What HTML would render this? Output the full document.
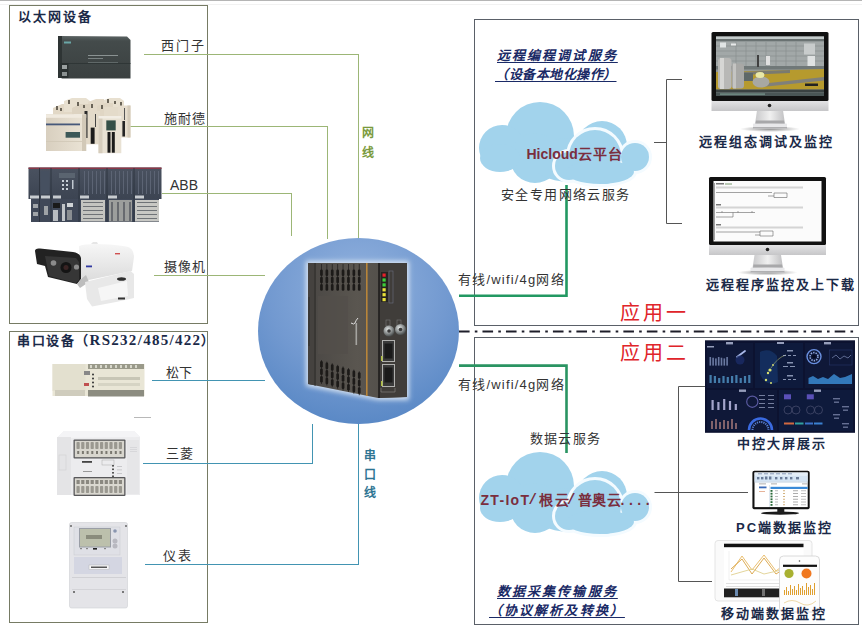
<!DOCTYPE html>
<html lang="zh-CN"><head><meta charset="utf-8">
<style>
*{margin:0;padding:0;box-sizing:border-box}
html,body{width:862px;height:629px;overflow:hidden;background:#fff}
body{position:relative;font-family:"Liberation Sans",sans-serif;color:#333}
.a{position:absolute}
.box{position:absolute;border:1px solid #767b64}
.rbox{position:absolute;border:1px solid #5a6068}
.t{position:absolute;z-index:5;white-space:nowrap;font-size:13px;line-height:13px;color:#333}
.h{position:absolute;z-index:5;white-space:nowrap;font-size:13px;line-height:13px;font-weight:bold;color:#1b2a48}
.lg{position:absolute;background:#9cb676}
.lb{position:absolute;background:#4294b2}
.ld{position:absolute;background:#555}
.it{position:absolute;z-index:5;white-space:nowrap;font-size:13px;line-height:13px;font-weight:bold;font-style:italic;color:#1a2a66;text-decoration:underline;text-decoration-thickness:1px;text-underline-offset:2px}
</style></head><body>
<!-- top gray line -->
<div class="a" style="left:0;top:0;width:862px;height:1px;background:#b5b5b5"></div>
<div class="a" style="left:0;top:4px;width:862px;height:1px;background:#f2f2f2"></div>

<!-- left boxes -->
<div class="box" style="left:9px;top:5px;width:199px;height:319px"></div>
<div class="box" style="left:9px;top:331px;width:199px;height:292px"></div>

<!-- right boxes -->
<div class="rbox" style="left:474px;top:19px;width:385px;height:307px"></div>
<div class="rbox" style="left:474px;top:337px;width:385px;height:288px"></div>

<!-- dash-dot separator -->
<svg class="a" style="left:458.5px;top:330px" width="397" height="3"><line x1="0" y1="1.5" x2="397" y2="1.5" stroke="#1e1e2a" stroke-width="2" stroke-dasharray="10.6 5.2 2.6 5.08"/></svg>

<div class="h" style="left:18px;top:10px;letter-spacing:1.9px">以太网设备</div>
<div class="h" style="left:17px;top:334px;letter-spacing:1.5px">串口设备（<span style="font-family:'Liberation Serif',serif;font-size:15px;letter-spacing:1.3px">RS232/485/422</span>）</div>


<!-- ethernet lines (green) -->
<div class="lg" style="left:144px;top:54px;width:215px;height:1px"></div>
<div class="lg" style="left:358px;top:54px;width:1px;height:186px"></div>
<div class="lg" style="left:130px;top:126px;width:198px;height:1px"></div>
<div class="lg" style="left:327px;top:126px;width:1px;height:113px"></div>
<div class="lg" style="left:162px;top:193px;width:130px;height:1px"></div>
<div class="lg" style="left:291px;top:193px;width:1px;height:43px"></div>
<div class="lg" style="left:154px;top:275px;width:111px;height:1px"></div>
<div class="t" style="left:161px;top:39px;letter-spacing:1.8px">西门子</div>
<div class="t" style="left:164px;top:112px;letter-spacing:1px">施耐德</div>
<div class="t" style="left:170px;top:179px;font-size:14px;letter-spacing:0px">ABB</div>
<div class="t" style="left:164px;top:260px;letter-spacing:1px">摄像机</div>
<div class="a" style="left:362px;top:123px;font-size:12px;line-height:20px;font-weight:bold;color:#7a9a3c;width:14px">网<br>线</div>

<!-- serial lines (teal) -->
<div class="lb" style="left:152px;top:380px;width:113px;height:1px"></div>
<div class="lb" style="left:143px;top:463px;width:170px;height:1px"></div>
<div class="lb" style="left:312px;top:424px;width:1px;height:40px"></div>
<div class="lb" style="left:145px;top:564px;width:214px;height:1px"></div>
<div class="lb" style="left:358px;top:424px;width:1px;height:141px"></div>
<div class="t" style="left:166px;top:366px">松下</div>
<div class="t" style="left:166px;top:447px;letter-spacing:1px">三菱</div>
<div class="t" style="left:163px;top:549px;letter-spacing:2px">仪表</div>
<div class="a" style="left:364px;top:447px;font-size:12px;line-height:18.5px;font-weight:bold;color:#2e7492;width:14px">串<br>口<br>线</div>

<!-- circle + device -->
<svg class="a" style="left:0;top:0" width="862" height="629">
<defs>
<radialGradient id="cg" cx="0.5" cy="0.3" r="0.75" fx="0.5" fy="0.25">
<stop offset="0" stop-color="#92b2de"/><stop offset="0.6" stop-color="#7299d0"/><stop offset="1" stop-color="#5686c4"/>
</radialGradient>
<radialGradient id="bnc" cx="0.4" cy="0.35" r="0.65"><stop offset="0" stop-color="#e4e8e8"/><stop offset="0.5" stop-color="#989c9c"/><stop offset="1" stop-color="#4a4e4e"/></radialGradient>
<linearGradient id="bg1" x1="0" y1="0" x2="1" y2="0">
<stop offset="0" stop-color="#4a4744"/><stop offset="0.5" stop-color="#5a5650"/><stop offset="1" stop-color="#4c4945"/>
</linearGradient>
<filter id="glow" x="-20%" y="-20%" width="140%" height="140%"><feGaussianBlur stdDeviation="2.5"/></filter>
</defs>
<ellipse cx="358.5" cy="331" rx="100.5" ry="93" fill="url(#cg)"/>
<path d="M306 261 L409 261 L409 400 L378 400 L306 386 Z" fill="#e8f0f8" opacity="0.85" filter="url(#glow)"/>
<path d="M308 263 L407 263 L407 397 L378 398 L308 384 Z" fill="url(#bg1)"/>
<path d="M308 263 L316 263 L316 385.5 L308 384 Z" fill="#45423f"/>
<rect x="308" y="297" width="2" height="49" fill="#3a3835"/>
<line x1="315" y1="263" x2="315" y2="385.5" stroke="#2e2c2a" stroke-width="1"/>
<rect x="318" y="296" width="30" height="58" fill="#524f4a" opacity="0.7"/>
<rect x="321.0" y="360.0" width="0.9" height="24.0" fill="#2a2826"/><rect x="320.1" y="361.0" width="2.7" height="6.6" rx="1.3" fill="#1c1a18"/><rect x="320.1" y="368.5" width="2.7" height="6.6" rx="1.3" fill="#1c1a18"/><rect x="320.1" y="376.0" width="2.7" height="6.6" rx="1.3" fill="#1c1a18"/><rect x="326.4" y="361.6" width="0.9" height="24.0" fill="#2a2826"/><rect x="325.5" y="362.6" width="2.7" height="6.6" rx="1.3" fill="#1c1a18"/><rect x="325.5" y="370.1" width="2.7" height="6.6" rx="1.3" fill="#1c1a18"/><rect x="325.5" y="377.6" width="2.7" height="6.6" rx="1.3" fill="#1c1a18"/><rect x="331.8" y="363.2" width="0.9" height="24.0" fill="#2a2826"/><rect x="330.9" y="364.2" width="2.7" height="6.6" rx="1.3" fill="#1c1a18"/><rect x="330.9" y="371.7" width="2.7" height="6.6" rx="1.3" fill="#1c1a18"/><rect x="330.9" y="379.2" width="2.7" height="6.6" rx="1.3" fill="#1c1a18"/><rect x="337.2" y="364.8" width="0.9" height="24.0" fill="#2a2826"/><rect x="336.3" y="365.8" width="2.7" height="6.6" rx="1.3" fill="#1c1a18"/><rect x="336.3" y="373.3" width="2.7" height="6.6" rx="1.3" fill="#1c1a18"/><rect x="336.3" y="380.8" width="2.7" height="6.6" rx="1.3" fill="#1c1a18"/><rect x="342.6" y="366.4" width="0.9" height="24.0" fill="#2a2826"/><rect x="341.7" y="367.4" width="2.7" height="6.6" rx="1.3" fill="#1c1a18"/><rect x="341.7" y="374.9" width="2.7" height="6.6" rx="1.3" fill="#1c1a18"/><rect x="341.7" y="382.4" width="2.7" height="6.6" rx="1.3" fill="#1c1a18"/><rect x="348.0" y="368.0" width="0.9" height="24.0" fill="#2a2826"/><rect x="347.1" y="369.0" width="2.7" height="6.6" rx="1.3" fill="#1c1a18"/><rect x="347.1" y="376.5" width="2.7" height="6.6" rx="1.3" fill="#1c1a18"/><rect x="347.1" y="384.0" width="2.7" height="6.6" rx="1.3" fill="#1c1a18"/><rect x="353.4" y="369.6" width="0.9" height="24.0" fill="#2a2826"/><rect x="352.5" y="370.6" width="2.7" height="6.6" rx="1.3" fill="#1c1a18"/><rect x="352.5" y="378.1" width="2.7" height="6.6" rx="1.3" fill="#1c1a18"/><rect x="352.5" y="385.6" width="2.7" height="6.6" rx="1.3" fill="#1c1a18"/><rect x="358.8" y="371.2" width="0.9" height="24.0" fill="#2a2826"/><rect x="357.9" y="372.2" width="2.7" height="6.6" rx="1.3" fill="#1c1a18"/><rect x="357.9" y="379.7" width="2.7" height="6.6" rx="1.3" fill="#1c1a18"/><rect x="357.9" y="387.2" width="2.7" height="6.6" rx="1.3" fill="#1c1a18"/>
<rect x="321.0" y="264" width="0.9" height="26" fill="#2a2826"/><rect x="320.1" y="269.5" width="2.7" height="6.6" rx="1.3" fill="#1c1a18"/><rect x="320.1" y="276.8" width="2.7" height="6.6" rx="1.3" fill="#1c1a18"/><rect x="320.1" y="284.1" width="2.7" height="6.6" rx="1.3" fill="#1c1a18"/><rect x="326.4" y="264" width="0.9" height="26" fill="#2a2826"/><rect x="325.5" y="269.5" width="2.7" height="6.6" rx="1.3" fill="#1c1a18"/><rect x="325.5" y="276.8" width="2.7" height="6.6" rx="1.3" fill="#1c1a18"/><rect x="325.5" y="284.1" width="2.7" height="6.6" rx="1.3" fill="#1c1a18"/><rect x="331.8" y="264" width="0.9" height="26" fill="#2a2826"/><rect x="330.9" y="269.5" width="2.7" height="6.6" rx="1.3" fill="#1c1a18"/><rect x="330.9" y="276.8" width="2.7" height="6.6" rx="1.3" fill="#1c1a18"/><rect x="330.9" y="284.1" width="2.7" height="6.6" rx="1.3" fill="#1c1a18"/><rect x="337.2" y="264" width="0.9" height="26" fill="#2a2826"/><rect x="336.3" y="269.5" width="2.7" height="6.6" rx="1.3" fill="#1c1a18"/><rect x="336.3" y="276.8" width="2.7" height="6.6" rx="1.3" fill="#1c1a18"/><rect x="336.3" y="284.1" width="2.7" height="6.6" rx="1.3" fill="#1c1a18"/><rect x="342.6" y="264" width="0.9" height="26" fill="#2a2826"/><rect x="341.7" y="269.5" width="2.7" height="6.6" rx="1.3" fill="#1c1a18"/><rect x="341.7" y="276.8" width="2.7" height="6.6" rx="1.3" fill="#1c1a18"/><rect x="341.7" y="284.1" width="2.7" height="6.6" rx="1.3" fill="#1c1a18"/><rect x="348.0" y="264" width="0.9" height="26" fill="#2a2826"/><rect x="347.1" y="269.5" width="2.7" height="6.6" rx="1.3" fill="#1c1a18"/><rect x="347.1" y="276.8" width="2.7" height="6.6" rx="1.3" fill="#1c1a18"/><rect x="347.1" y="284.1" width="2.7" height="6.6" rx="1.3" fill="#1c1a18"/><rect x="353.4" y="264" width="0.9" height="26" fill="#2a2826"/><rect x="352.5" y="269.5" width="2.7" height="6.6" rx="1.3" fill="#1c1a18"/><rect x="352.5" y="276.8" width="2.7" height="6.6" rx="1.3" fill="#1c1a18"/><rect x="352.5" y="284.1" width="2.7" height="6.6" rx="1.3" fill="#1c1a18"/><rect x="358.8" y="264" width="0.9" height="26" fill="#2a2826"/><rect x="357.9" y="269.5" width="2.7" height="6.6" rx="1.3" fill="#1c1a18"/><rect x="357.9" y="276.8" width="2.7" height="6.6" rx="1.3" fill="#1c1a18"/><rect x="357.9" y="284.1" width="2.7" height="6.6" rx="1.3" fill="#1c1a18"/><line x1="366.8" y1="263" x2="366.8" y2="396" stroke="#b8853a" stroke-width="1.6"/>
<path d="M378.5 263 L407 263 L407 397 L378.5 398 Z" fill="#403d3a"/>
<line x1="379" y1="263" x2="379" y2="398" stroke="#1c1b1a" stroke-width="1.4"/>
<rect x="381" y="272" width="7" height="30" fill="#262422"/>
<rect x="382.5" y="273.5" width="3.2" height="3.2" fill="#e8202a"/><rect x="382.5" y="278.4" width="3.2" height="3.2" fill="#3ccf3a"/><rect x="382.5" y="283.3" width="3.2" height="3.2" fill="#3ccf3a"/><rect x="382.5" y="288.2" width="3.2" height="3.2" fill="#e8e23a"/><rect x="382.5" y="293.1" width="3.2" height="3.2" fill="#e8e23a"/><rect x="382.5" y="298.0" width="3.2" height="3.2" fill="#e8e23a"/>
<rect x="389" y="271" width="4" height="32" fill="none" stroke="#6a6f80" stroke-width="0.6"/>
<rect x="386" y="320" width="4" height="6" fill="none" stroke="#777" stroke-width="0.6"/><rect x="397" y="320" width="4" height="6" fill="none" stroke="#777" stroke-width="0.6"/>
<circle cx="389" cy="331" r="5.5" fill="url(#bnc)"/><circle cx="389" cy="331" r="1.8" fill="#3a3a3a"/>
<circle cx="400.5" cy="329.5" r="5.5" fill="url(#bnc)"/><circle cx="400.5" cy="329.5" r="1.8" fill="#3a3a3a"/>
<rect x="382.5" y="340.5" width="12" height="21" fill="#3a3a3a" stroke="#b0b0ae" stroke-width="1"/>
<rect x="384.5" y="343.5" width="8" height="15" fill="#1a1a1a"/>
<rect x="382.5" y="364.5" width="12" height="22" fill="#3a3a3a" stroke="#b0b0ae" stroke-width="1"/>
<rect x="384.5" y="367.5" width="8" height="15" fill="#1a1a1a"/>
<path d="M381 388 l0 4 l14 0 l0 -4" stroke="#8a8a88" stroke-width="0.6" fill="none"/>
<rect x="381" y="356" width="1.5" height="5" fill="#b0c040"/><rect x="381" y="381" width="1.5" height="5" fill="#b0c040"/>
<path d="M351 323 q3 2 4 0 q1 -3 3 -5" stroke="#e0e0e0" stroke-width="1" fill="none"/><rect x="355.5" y="323" width="1.6" height="22" fill="#b8b8b4" opacity="0.8"/>
</svg>

<svg class="a" style="left:0;top:0" width="862" height="629">
<defs><g id="cloud">
<g>
<g fill="#a2d3ec">
<circle cx="540" cy="136" r="34"/>
<circle cx="502" cy="148" r="23"/>
<circle cx="602" cy="146" r="25"/>
<circle cx="535" cy="158" r="25"/>
<ellipse cx="570" cy="160" rx="40" ry="22"/>
<ellipse cx="500" cy="158" rx="20" ry="14"/>
</g>
<g fill="#f4fbff" stroke="#f4fbff" stroke-width="4">
<circle cx="595" cy="156" r="27"/>
<circle cx="569" cy="166" r="15"/>
<circle cx="635" cy="157" r="15"/>
<circle cx="605" cy="170" r="15"/>
<ellipse cx="600" cy="172" rx="35" ry="13"/>
</g>
<g fill="#a2d3ec">
<circle cx="595" cy="156" r="26"/>
<circle cx="569" cy="166" r="14"/>
<circle cx="635" cy="157" r="14"/>
<circle cx="605" cy="170" r="14"/>
<ellipse cx="600" cy="172" rx="34" ry="12"/>
</g>
</g>
</g></defs>
<use href="#cloud"/>
<use href="#cloud" y="350"/>
<!-- green wireless lines -->
<path d="M459 295.7 L566.5 295.7 L566.5 185" stroke="#229862" stroke-width="2.6" fill="none"/>
<path d="M459 365.6 L566.5 365.6 L566.5 453" stroke="#2a9462" stroke-width="2.6" fill="none"/>
<!-- brackets -->
<path d="M682 79.5 L666.5 79.5 L666.5 223.5 L682 223.5 M654 142.5 L666.5 142.5" stroke="#555" stroke-width="1" fill="none"/>
<path d="M705 386.5 L678.5 386.5 L678.5 581.5 L712 581.5 M654.5 492.5 L748 492.5" stroke="#555" stroke-width="1" fill="none"/>
</svg>
<div class="t" style="left:458px;top:273px;letter-spacing:1.2px">有线/wifi/4g网络</div>
<div class="t" style="left:458px;top:378px;letter-spacing:1.2px">有线/wifi/4g网络</div>
<div class="t" style="left:501px;top:188px;letter-spacing:1.4px">安全专用网络云服务</div>
<div class="t" style="left:530px;top:432px;letter-spacing:1.2px">数据云服务</div>
<div class="h" style="left:526.5px;top:147px;font-size:14px;line-height:14px;color:#7a2e3e">Hicloud<span style="letter-spacing:1.2px">云平台</span></div>
<div class="h" style="left:480.5px;top:493px;font-size:14px;line-height:14px;color:#7a2e3e;letter-spacing:1.3px">ZT-IoT</div>
<div class="h" style="left:528.5px;top:493px;font-size:14px;line-height:14px;color:#7a2e3e;font-family:'Liberation Mono',monospace">/</div>
<div class="h" style="left:538.5px;top:493px;font-size:14px;line-height:14px;color:#7a2e3e;letter-spacing:2.3px">根云</div>
<div class="h" style="left:567px;top:493px;font-size:14px;line-height:14px;color:#7a2e3e;font-family:'Liberation Mono',monospace">/</div>
<div class="h" style="left:577.5px;top:493px;font-size:14px;line-height:14px;color:#7a2e3e;letter-spacing:0.8px">普奥云</div>
<div class="h" style="left:620.5px;top:493px;font-size:14px;line-height:14px;color:#7a2e3e;letter-spacing:4.5px">....</div>
<div class="it" style="left:497px;top:49px;letter-spacing:2.1px">远程编程调试服务</div>
<div class="it" style="left:495px;top:68px;letter-spacing:0.5px">（设备本地化操作）</div>
<div class="it" style="left:497px;top:585px;letter-spacing:2.1px">数据采集传输服务</div>
<div class="it" style="left:489px;top:604px;letter-spacing:2.1px">（协议解析及转换）</div>
<div class="a" style="left:620px;top:302.5px;font-family:'Liberation Serif',serif;font-size:20px;line-height:20px;letter-spacing:3px;color:#e0242a;white-space:nowrap">应用一</div>
<div class="a" style="left:620px;top:342.5px;font-family:'Liberation Serif',serif;font-size:20px;line-height:20px;letter-spacing:3px;color:#e0242a;white-space:nowrap">应用二</div>
<div class="h" style="left:699px;top:135px;letter-spacing:2px">远程组态调试及监控</div>
<div class="h" style="left:706px;top:278px;letter-spacing:2px">远程程序监控及上下载</div>
<div class="h" style="left:737px;top:437px;letter-spacing:2px">中控大屏展示</div>
<div class="h" style="left:736px;top:521px;letter-spacing:2px">PC端数据监控</div>
<div class="h" style="left:721px;top:607px;letter-spacing:2.1px">移动端数据监控</div>
<!-- left images -->
<svg class="a" style="left:0;top:0" width="862" height="629">
<defs>
<linearGradient id="sieg" x1="0" y1="0" x2="0" y2="1"><stop offset="0" stop-color="#5b6363"/><stop offset="0.12" stop-color="#444b4b"/><stop offset="1" stop-color="#3a4040"/></linearGradient>
<linearGradient id="beige" x1="0" y1="0" x2="1" y2="0"><stop offset="0" stop-color="#d8cfbf"/><stop offset="1" stop-color="#ebe4d6"/></linearGradient>
<linearGradient id="abbtop" x1="0" y1="0" x2="0" y2="1"><stop offset="0" stop-color="#4a5260"/><stop offset="1" stop-color="#3c4452"/></linearGradient>
<linearGradient id="camw" x1="0" y1="0" x2="0" y2="1"><stop offset="0" stop-color="#f6f6f6"/><stop offset="1" stop-color="#dcdcdc"/></linearGradient>
</defs>
<!-- Siemens PLC -->
<path d="M59 36 L127 36.5 L130.5 40 L130.5 78.5 L62 78.5 L58 76 L58 38 Z" fill="url(#sieg)"/>
<rect x="58" y="36" width="4" height="42" fill="#2e3434"/>
<line x1="62" y1="63.5" x2="130.5" y2="63.5" stroke="#2c3232" stroke-width="0.8"/>
<rect x="64" y="41.5" width="7" height="2" fill="#6aa6a6"/>
<rect x="88" y="55" width="30" height="1" fill="#8a9292"/><rect x="88" y="58" width="15" height="1" fill="#7a8282"/><rect x="88" y="62" width="30" height="0.8" fill="#6a7272"/>
<rect x="60.5" y="63" width="8" height="15" fill="#2a3030"/>
<rect x="62" y="65" width="5" height="4" fill="#9aa0a0"/><rect x="62" y="72" width="5" height="4" fill="#8a9090"/>
<!-- Schneider cluster -->
<g>
<path d="M53 108 L62 104 L74 104 L74 115 L53 115 Z" fill="#e2d8c6"/>
<path d="M64 101 L72 98 L86 98 L90 101 L90 112 L64 112 Z" fill="#e8e0d0"/>
<path d="M88 102 L96 99 L104 99 L104 111 L88 111 Z" fill="#e4dac9"/>
<path d="M104 100 L110 98 L120 98 L124 101 L124 108 L104 108 Z" fill="#e8e0d0"/>
<path d="M72 108 L80 104 L90 104 L90 114 L72 114 Z" fill="#ddd3c1"/>
<path d="M97 106 L105 103 L113 103 L113 116 L97 116 Z" fill="#e0d6c4"/>
<g fill="#6a6458"><rect x="56" y="106" width="2" height="4"/><rect x="60" y="108" width="2" height="3"/><rect x="68" y="100" width="2" height="4"/><rect x="77" y="102" width="2" height="4"/><rect x="83" y="105" width="2" height="3"/><rect x="91" y="104" width="2" height="4"/><rect x="101" y="105" width="2" height="4"/><rect x="107" y="99" width="2" height="4"/><rect x="114" y="101" width="2" height="3"/><rect x="120" y="102" width="2" height="4"/></g>
<rect x="104" y="107" width="16" height="10" fill="#e4dbca"/><rect x="118" y="105.5" width="12.5" height="32" fill="#e6ddcd"/>
<rect x="127.5" y="105.5" width="3" height="32" fill="#d4cab8"/>
<rect x="122.4" y="121" width="2.6" height="15.5" fill="#242424"/>
<rect x="124" y="108" width="1" height="12" fill="#555"/>
<rect x="85.7" y="111" width="14.3" height="33.3" fill="#e3dac9"/>
<rect x="84.5" y="111" width="3" height="27" fill="#2a2a2a"/>
<rect x="90.7" y="127.6" width="3.9" height="16.2" fill="#1c1c1c"/>
<rect x="95" y="114" width="1" height="13" fill="#444"/>
<rect x="46" y="114.3" width="40.2" height="36.7" fill="url(#beige)"/>
<rect x="46" y="114.3" width="40.2" height="3.5" fill="#f0eadf"/>
<rect x="82" y="114.3" width="4.2" height="36.7" fill="#d2c9b8"/>
<rect x="46" y="123.5" width="34" height="1.8" fill="#46587a"/>
<rect x="65.6" y="132" width="14.4" height="5.7" fill="#3c5858"/>
<rect x="46" y="141" width="36" height="0.8" fill="#d0c7b6"/>
<rect x="98.5" y="116" width="22.8" height="37.2" fill="#e9e2d4"/>
<rect x="98.5" y="116" width="4" height="37.2" fill="#d6cdbd"/>
<rect x="98.5" y="116" width="22.8" height="2.5" fill="#f2ede4"/>
<rect x="106.3" y="120.4" width="9.4" height="10" fill="#355048"/>
<rect x="107.5" y="132" width="3" height="20.7" fill="#1a1a1a"/><rect x="111.8" y="132" width="3" height="20.7" fill="#1a1a1a"/>
</g>
<!-- ABB -->
<g>
<rect x="28.5" y="167.5" width="133" height="31.5" fill="url(#abbtop)"/>
<rect x="28.5" y="167.5" width="133" height="1.5" fill="#8a3848"/>
<rect x="31" y="199" width="128" height="23" fill="#404858"/>
<rect x="59" y="173" width="16" height="5" fill="#5a6470"/><g fill="#5c6474"><rect x="84" y="171" width="1" height="23"/><rect x="88" y="171" width="1" height="23"/><rect x="92" y="171" width="1" height="23"/><rect x="96" y="171" width="1" height="23"/><rect x="100" y="171" width="1" height="23"/><rect x="104" y="171" width="1" height="23"/><rect x="111" y="171" width="1" height="23"/><rect x="115" y="171" width="1" height="23"/><rect x="119" y="171" width="1" height="23"/><rect x="123" y="171" width="1" height="23"/><rect x="127" y="171" width="1" height="23"/><rect x="131" y="171" width="1" height="23"/><rect x="138" y="171" width="1" height="23"/><rect x="142" y="171" width="1" height="23"/><rect x="146" y="171" width="1" height="23"/><rect x="150" y="171" width="1" height="23"/><rect x="154" y="171" width="1" height="23"/><rect x="158" y="171" width="1" height="23"/></g><rect x="40.5" y="171" width="9" height="23" fill="#465060"/>
<g fill="#c8ccd0"><rect x="30" y="195.5" width="9" height="3"/><rect x="41" y="195.5" width="9" height="3"/><rect x="53" y="195.5" width="8" height="3"/><rect x="80" y="195.5" width="9" height="3"/><rect x="108" y="195.5" width="9" height="3"/><rect x="135" y="195.5" width="9" height="3"/></g>
<g stroke="#2a303a" stroke-width="0.8"><line x1="39.5" y1="168" x2="39.5" y2="222"/><line x1="51" y1="168" x2="51" y2="222"/><line x1="79" y1="168" x2="79" y2="222"/><line x1="107" y1="168" x2="107" y2="222"/><line x1="134" y1="168" x2="134" y2="222"/></g>
<rect x="81" y="200" width="24" height="21.5" fill="#c4c4c0"/>
<rect x="109" y="200" width="23" height="21.5" fill="#9c9e9c"/>
<rect x="135" y="200" width="24" height="21.5" fill="#c8c8c4"/>
<g fill="#5a5e64" opacity="0.8">
<rect x="83" y="202" width="20" height="1"/><rect x="83" y="206" width="20" height="1"/><rect x="83" y="210" width="20" height="1"/><rect x="83" y="214" width="20" height="1"/><rect x="83" y="218" width="20" height="1"/>
<rect x="111" y="202" width="2" height="19"/><rect x="117" y="202" width="2" height="19"/><rect x="123" y="202" width="2" height="19"/><rect x="129" y="202" width="2" height="19"/>
<rect x="137" y="202" width="20" height="1"/><rect x="137" y="206" width="20" height="1"/><rect x="137" y="210" width="20" height="1"/><rect x="137" y="214" width="20" height="1"/><rect x="137" y="218" width="20" height="1"/>
</g>
<rect x="33" y="204" width="5" height="4" fill="#a0a4a8"/><rect x="33" y="212" width="5" height="4" fill="#a0a4a8"/>
<rect x="44" y="206" width="4" height="9" fill="#9ea2a6"/>
<rect x="53" y="203" width="7" height="5" fill="#1a1a1a"/><rect x="53" y="210" width="5" height="11" fill="#b8bcc0"/>
<rect x="62" y="204" width="3" height="17" fill="#c0c4c8"/><rect x="67" y="203" width="6" height="4" fill="#cfd3d6"/><rect x="67" y="210" width="5" height="10" fill="#8a8e92"/>
<g fill="#c8d0d8"><rect x="62" y="180" width="2" height="2"/><rect x="66" y="180" width="2" height="2"/><rect x="62" y="184" width="2" height="2"/><rect x="66" y="184" width="2" height="2"/><rect x="62" y="188" width="2" height="2"/><rect x="66" y="188" width="2" height="2"/></g>
<rect x="72" y="180" width="1.5" height="9" fill="#c0c8d0"/>
</g>
<!-- camera -->
<g>
<path d="M79 246 Q92 242 126 246.5 Q134 248 134 257 L132 271 L84 281 L80 276 Z" fill="url(#camw)"/>
<path d="M91 244 l2 -2 l4 0 l1 2 Z" fill="#e6e6e6"/>
<path d="M35 251 Q35 248 40 248.5 L73 252 Q80 253 81 258 L81 279 L77 284 L48 277 L45 266 L37 264 Z" fill="#222"/>
<path d="M45 256 L76 258 L79 262 L79 280 L76 283 L49 276 Z" fill="#363636"/>
<circle cx="66" cy="267.5" r="5.5" fill="#141414"/><circle cx="66" cy="267.5" r="2.5" fill="#3a2424"/>
<circle cx="53.5" cy="263" r="2.8" fill="#8c8c8c"/><circle cx="76.5" cy="267" r="2.6" fill="#8c8c8c"/>
<path d="M77 284 L81 279 L86 275 L89 282 L80 288 Z" fill="#bdbdbd"/>
<rect x="86" y="265.5" width="6" height="1.8" fill="#3038a0"/>
<rect x="115" y="253" width="5" height="1.4" fill="#d05050"/>
<path d="M85 282 L130.5 271 L134 274 L134 298 L116 302 L92 306.5 L87 299 Z" fill="#e8e8e8"/>
<path d="M98 288 L127 281 L128 296 L101 301 Z" fill="#f6f6f6"/>
<ellipse cx="121.5" cy="279" rx="4.5" ry="1.8" fill="#2e2e2e"/>
<rect x="118" y="297.5" width="7" height="2" fill="#333"/>
</g>
<!-- Panasonic -->
<g>
<rect x="52.5" y="364" width="92" height="32" fill="#e9e6d6"/>
<rect x="52.5" y="364" width="33" height="27" fill="#e3e0cf"/>
<rect x="88" y="364" width="56" height="5" fill="#9a9a8a"/>
<g fill="#d8d8cc"><rect x="90" y="365" width="2" height="3"/><rect x="95" y="365" width="2" height="3"/><rect x="100" y="365" width="2" height="3"/><rect x="105" y="365" width="2" height="3"/><rect x="110" y="365" width="2" height="3"/><rect x="115" y="365" width="2" height="3"/><rect x="120" y="365" width="2" height="3"/><rect x="125" y="365" width="2" height="3"/><rect x="130" y="365" width="2" height="3"/><rect x="135" y="365" width="2" height="3"/></g>
<rect x="88" y="390" width="56" height="6.5" fill="#8c8c80"/>
<rect x="55" y="390" width="30" height="6" fill="#cfccbd"/>
<g fill="#333"><circle cx="93" cy="374.5" r="1"/><circle cx="93" cy="378.5" r="1"/><circle cx="93" cy="382.5" r="1"/><circle cx="93" cy="386.5" r="1"/></g>
<rect x="84" y="371" width="6" height="4" fill="#888"/>
<rect x="84" y="383" width="5" height="3" fill="#c05050"/>
<rect x="98" y="377" width="42" height="3" fill="#c8c6b6"/>
<rect x="98" y="383" width="42" height="3" fill="#d6d4c4"/>
</g>
<rect x="134" y="417" width="17" height="1" fill="#b8b8b8"/>
<!-- Mitsubishi -->
<g>
<path d="M57 438 L64 431 L134 431 L140 437 L140 495 L57 495 Z" fill="#ececee"/>
<path d="M64 431 L134 431 L140 437 L57 438 Z" fill="#f4f4f6"/>
<rect x="57" y="437" width="14" height="58" fill="#e4e4e6"/>
<rect x="59" y="455" width="7" height="15" fill="none" stroke="#cfcfd2" stroke-width="0.6"/>
<rect x="73.5" y="439.5" width="52" height="19" rx="1" fill="#58585a"/>
<rect x="74.8" y="440.8" width="49.4" height="16.4" fill="#d8d6ce"/>
<rect x="76.5" y="442" width="3.2" height="7" rx="0.8" fill="#9a9890"/><rect x="77.2" y="451" width="2" height="3" fill="#7a7870"/><rect x="81.2" y="442" width="3.2" height="7" rx="0.8" fill="#9a9890"/><rect x="81.9" y="451" width="2" height="3" fill="#7a7870"/><rect x="85.9" y="442" width="3.2" height="7" rx="0.8" fill="#9a9890"/><rect x="86.6" y="451" width="2" height="3" fill="#7a7870"/><rect x="90.6" y="442" width="3.2" height="7" rx="0.8" fill="#9a9890"/><rect x="91.3" y="451" width="2" height="3" fill="#7a7870"/><rect x="95.3" y="442" width="3.2" height="7" rx="0.8" fill="#9a9890"/><rect x="96.0" y="451" width="2" height="3" fill="#7a7870"/><rect x="100.0" y="442" width="3.2" height="7" rx="0.8" fill="#9a9890"/><rect x="100.7" y="451" width="2" height="3" fill="#7a7870"/><rect x="104.7" y="442" width="3.2" height="7" rx="0.8" fill="#9a9890"/><rect x="105.4" y="451" width="2" height="3" fill="#7a7870"/><rect x="109.4" y="442" width="3.2" height="7" rx="0.8" fill="#9a9890"/><rect x="110.1" y="451" width="2" height="3" fill="#7a7870"/><rect x="114.1" y="442" width="3.2" height="7" rx="0.8" fill="#9a9890"/><rect x="114.8" y="451" width="2" height="3" fill="#7a7870"/><rect x="118.8" y="442" width="3.2" height="7" rx="0.8" fill="#9a9890"/><rect x="119.5" y="451" width="2" height="3" fill="#7a7870"/>
<rect x="73.5" y="477" width="52" height="19" rx="1" fill="#58585a"/>
<rect x="74.8" y="478.3" width="49.4" height="16.4" fill="#dad8d0"/>
<rect x="76.5" y="480" width="3.2" height="4" fill="#8a8880"/><rect x="76.5" y="486" width="3.2" height="7" rx="0.8" fill="#9a9890"/><rect x="81.2" y="480" width="3.2" height="4" fill="#8a8880"/><rect x="81.2" y="486" width="3.2" height="7" rx="0.8" fill="#9a9890"/><rect x="85.9" y="480" width="3.2" height="4" fill="#8a8880"/><rect x="85.9" y="486" width="3.2" height="7" rx="0.8" fill="#9a9890"/><rect x="90.6" y="480" width="3.2" height="4" fill="#8a8880"/><rect x="90.6" y="486" width="3.2" height="7" rx="0.8" fill="#9a9890"/><rect x="95.3" y="480" width="3.2" height="4" fill="#8a8880"/><rect x="95.3" y="486" width="3.2" height="7" rx="0.8" fill="#9a9890"/><rect x="100.0" y="480" width="3.2" height="4" fill="#8a8880"/><rect x="100.0" y="486" width="3.2" height="7" rx="0.8" fill="#9a9890"/><rect x="104.7" y="480" width="3.2" height="4" fill="#8a8880"/><rect x="104.7" y="486" width="3.2" height="7" rx="0.8" fill="#9a9890"/><rect x="109.4" y="480" width="3.2" height="4" fill="#8a8880"/><rect x="109.4" y="486" width="3.2" height="7" rx="0.8" fill="#9a9890"/><rect x="114.1" y="480" width="3.2" height="4" fill="#8a8880"/><rect x="114.1" y="486" width="3.2" height="7" rx="0.8" fill="#9a9890"/><rect x="118.8" y="480" width="3.2" height="4" fill="#8a8880"/><rect x="118.8" y="486" width="3.2" height="7" rx="0.8" fill="#9a9890"/>
<rect x="82" y="461" width="10" height="1.8" fill="#444"/>
<rect x="83" y="471" width="9" height="1" fill="#999"/>
<rect x="102" y="460" width="12" height="5" fill="none" stroke="#aaa" stroke-width="0.5"/>
<g fill="#555"><rect x="112" y="465" width="2" height="1.6"/><rect x="112" y="468.5" width="2" height="1.6"/><rect x="112" y="472" width="2" height="1.6"/><rect x="112" y="475.5" width="2" height="1.6"/></g>
<g fill="#c0c0c2"><rect x="117" y="466" width="5" height="0.8"/><rect x="117" y="469.5" width="5" height="0.8"/><rect x="117" y="473" width="5" height="0.8"/></g>
<rect x="127" y="440" width="12" height="54" fill="#e6e6e8"/>
<g fill="#d0d0d4"><rect x="130" y="447" width="7" height="0.7"/><rect x="130" y="449" width="7" height="0.7"/><rect x="130" y="451" width="7" height="0.7"/></g>
</g>
<!-- meter -->
<g>
<rect x="69.5" y="522.5" width="58" height="85.5" rx="2" fill="#e4e4e8" stroke="#cfd0d4" stroke-width="0.6"/>
<rect x="74" y="527" width="46" height="28" fill="#dfe0e6" stroke="#c8c9cf" stroke-width="0.5"/>
<rect x="79" y="528" width="32" height="19.5" fill="#9a9ea6"/><rect x="80" y="529" width="30" height="17.5" fill="#bcc0ac"/>
<rect x="86" y="535" width="16" height="4" fill="#8a8c7c"/>
<circle cx="115" cy="531" r="1.8" fill="#8a96b0"/>
<ellipse cx="115" cy="541" rx="2.5" ry="2.5" fill="#b8b8c0"/><ellipse cx="115" cy="546" rx="2.5" ry="2.5" fill="#b8b8c0"/>
<rect x="93" y="548" width="4" height="1.6" fill="#222"/>
<g fill="#888"><rect x="80" y="548" width="2" height="1.2"/><rect x="86" y="548" width="2" height="1.2"/><rect x="104" y="548" width="2" height="1.2"/></g>
<rect x="74" y="557" width="48" height="17" fill="#d4d6e2"/>
<rect x="89" y="565" width="20" height="4.5" fill="#f4f4f6" stroke="#aaa" stroke-width="0.4"/>
<rect x="91" y="566.5" width="16" height="1.5" fill="#555"/>
<rect x="72" y="577" width="54" height="1" fill="#d0d0d4"/>
<rect x="72" y="589" width="54" height="1" fill="#d4d4d8"/>
<circle cx="74" cy="592" r="1" fill="#555"/><circle cx="123" cy="592" r="1" fill="#555"/>
<circle cx="71" cy="526" r="1" fill="#666"/><circle cx="126" cy="526" r="1" fill="#666"/>
</g>
</svg>

<!-- right images -->
<svg class="a" style="left:0;top:0" width="862" height="629">
<defs>
<linearGradient id="chin" x1="0" y1="0" x2="0" y2="1"><stop offset="0" stop-color="#e4e4e6"/><stop offset="1" stop-color="#c6c6c8"/></linearGradient>
<linearGradient id="neck" x1="0" y1="0" x2="1" y2="0"><stop offset="0" stop-color="#c8c8ca"/><stop offset="0.5" stop-color="#f0f0f0"/><stop offset="1" stop-color="#c0c0c2"/></linearGradient>
<radialGradient id="shad" cx="0.5" cy="0.5" r="0.5"><stop offset="0" stop-color="#000" stop-opacity="0.45"/><stop offset="1" stop-color="#000" stop-opacity="0"/></radialGradient>
<linearGradient id="area" x1="0" y1="0" x2="0" y2="1"><stop offset="0" stop-color="#3a7ad8"/><stop offset="1" stop-color="#1a3a90"/></linearGradient>
</defs>
<!-- iMac 1 -->
<g>
<ellipse cx="770" cy="129" rx="30" ry="3" fill="url(#shad)"/>
<path d="M757 110.5 L783 110.5 L785 124 L755 124 Z" fill="url(#neck)"/>
<rect x="753" y="123.5" width="34" height="5" rx="1" fill="#e8e8ea"/>
<rect x="753" y="127" width="34" height="1.5" fill="#b0b0b2"/><path d="M756 120.5 L784 120.5 L784.5 123.5 L755.5 123.5 Z" fill="#a8a8aa"/>
<rect x="711.5" y="100.5" width="117" height="10.5" fill="url(#chin)"/>
<circle cx="769.5" cy="105.5" r="1.8" fill="#222"/>
<rect x="711.5" y="32" width="117" height="69" rx="1.5" fill="#111"/>
<rect x="716" y="36.5" width="108" height="59.5" fill="#949a9a"/>
<rect x="716" y="36.5" width="108" height="2.5" fill="#c4cccc"/>
<rect x="716" y="39" width="108" height="2.5" fill="#6a7272"/>
<rect x="716" y="41.5" width="108" height="27" fill="#a2a8a8"/>
<g stroke="#8a9090" stroke-width="0.7">
<line x1="716" y1="46" x2="824" y2="46"/><line x1="716" y1="51" x2="824" y2="51"/><line x1="716" y1="56" x2="824" y2="56"/><line x1="716" y1="61" x2="824" y2="61"/>
<line x1="736" y1="42" x2="736" y2="68"/><line x1="746" y1="42" x2="746" y2="68"/><line x1="756" y1="42" x2="756" y2="68"/><line x1="766" y1="42" x2="766" y2="68"/><line x1="776" y1="42" x2="776" y2="68"/><line x1="786" y1="42" x2="786" y2="68"/><line x1="796" y1="42" x2="796" y2="68"/>
</g>
<rect x="720" y="42.5" width="6" height="5" fill="#e0e4e4"/>
<rect x="731" y="43.5" width="5" height="2" fill="#e8eaea"/>
<rect x="804" y="43.5" width="11" height="11" fill="#c8cccc"/>
<rect x="807.5" y="56" width="7.5" height="12.5" fill="#dfe2e2"/>
<rect x="716" y="66" width="108" height="3.5" fill="#707878"/>
<path d="M716 89.5 L716 72 L824 69 L824 89.5 Z" fill="#b69a2e"/>
<path d="M760 84 L824 77 L824 80.5 L762 87 Z" fill="#80807a"/>
<path d="M740 72 L790 70 L790 73 L742 75 Z" fill="#7a7a70"/>
<rect x="718" y="58" width="13.5" height="31" rx="3" fill="#b8b8b6"/>
<rect x="720" y="58" width="4" height="31" fill="#d6d6d4"/>
<rect x="731.5" y="63.5" width="12.5" height="25" rx="3" fill="#a8a8a6"/>
<rect x="733" y="63.5" width="3" height="25" fill="#c4c4c2"/>
<rect x="744" y="73" width="9" height="8" fill="#5e6868"/>
<ellipse cx="761" cy="82" rx="8.5" ry="5.5" fill="#a8a8a2"/>
<ellipse cx="760" cy="75" rx="4.5" ry="3" fill="#e8e8a8"/>
<rect x="757" y="55" width="2" height="12" fill="#404040"/>
<rect x="766" y="56" width="4" height="9" fill="#e0e0e0"/>
<rect x="805" y="83.5" width="13" height="2.5" fill="#222"/>
<rect x="716" y="89.5" width="108" height="3" fill="#3a4242"/>
<rect x="716" y="92.5" width="108" height="3.5" fill="#4a5656"/>
<rect x="720" y="93.5" width="45" height="1.2" fill="#7a9a90"/>
</g>
<!-- iMac 2 -->
<g>
<ellipse cx="767.5" cy="272.5" rx="30" ry="3" fill="url(#shad)"/>
<path d="M754.5 255 L781 255 L783 268 L752.5 268 Z" fill="url(#neck)"/>
<rect x="750.5" y="267.5" width="34" height="5" rx="1" fill="#e8e8ea"/>
<rect x="750.5" y="271" width="34" height="1.5" fill="#b0b0b2"/><path d="M753.5 264.5 L782 264.5 L782.5 267.5 L753 267.5 Z" fill="#a8a8aa"/>
<rect x="709" y="244.5" width="117" height="10.5" fill="url(#chin)"/>
<circle cx="767.5" cy="249.5" r="1.8" fill="#222"/>
<rect x="709" y="177" width="117" height="68" rx="1.5" fill="#111"/>
<rect x="713.5" y="181" width="108" height="60.5" fill="#fbfbfb"/>
<g fill="#d4d4d4"><rect x="716" y="186.5" width="87" height="2"/><rect x="716" y="206.5" width="87" height="2"/><rect x="716" y="226.5" width="87" height="2"/></g>
<rect x="716" y="183" width="8" height="1.5" fill="#777"/><rect x="725" y="183.5" width="7" height="1" fill="#7a9a70"/>
<rect x="716" y="204" width="5" height="1.5" fill="#777"/><rect x="716" y="224" width="5" height="1.5" fill="#777"/>
<g stroke="#666" stroke-width="0.6" fill="none">
<path d="M716 192.5 L772 192.5 M768 196 L774 196 M774 193 L787 193 L787 197.5 L774 197.5 Z"/>
<path d="M716 212.5 L755 212.5 M716 217 L733 217 L733 212.5 M722 212.5 l0 -1.5 M738 212.5 l0 -1.5 M752 212.5 l0 -1.5"/>
<path d="M716 232 L760 232 M755 235 L760 235 M760 231 L773 231 L773 236 L760 236 Z"/>
<path d="M714.5 183 L714.5 240"/>
</g>
</g>
<!-- dashboard -->
<g>
<rect x="705" y="340.3" width="150" height="92.5" fill="#0c1230"/>
<rect x="707" y="343" width="46" height="45" fill="#0f1838"/>
<rect x="755" y="343" width="48" height="45" fill="#0e1a3c"/>
<rect x="805" y="343" width="48" height="45" fill="#0f1838"/>
<rect x="707" y="390" width="70" height="41" fill="#0f1838"/>
<rect x="779" y="390" width="74" height="41" fill="#0e1a3c"/>
<g fill="#b8c0dc" opacity="0.8"><rect x="726" y="342" width="7" height="2.4"/><rect x="777" y="342" width="7" height="2"/><rect x="824" y="342" width="7" height="2.4"/><rect x="739" y="389.5" width="7" height="2.4"/><rect x="814" y="389.5" width="7" height="2.4"/><rect x="707" y="346" width="7" height="1.5"/></g>
<g fill="#7a8ab4" opacity="0.85"><rect x="709.5" y="357.0" width="1.6" height="8.6"/><rect x="712.3" y="357.7" width="1.6" height="7.9"/><rect x="715.1" y="358.4" width="1.6" height="7.2"/><rect x="717.9" y="357.0" width="1.6" height="8.6"/><rect x="720.7" y="357.7" width="1.6" height="7.9"/><rect x="723.5" y="358.4" width="1.6" height="7.2"/><rect x="726.3" y="357.0" width="1.6" height="8.6"/></g>
<g fill="#4a88b8" opacity="0.9"><rect x="709.5" y="375" width="2.2" height="8"/><rect x="713.8" y="376" width="2.2" height="7"/><rect x="718.1" y="378" width="2.2" height="5"/><rect x="722.4" y="376" width="2.2" height="7"/><rect x="726.7" y="377" width="2.2" height="6"/><rect x="731.0" y="376" width="2.2" height="7"/><rect x="735.3" y="375" width="2.2" height="8"/><rect x="739.6" y="378" width="2.2" height="5"/><rect x="743.9" y="376" width="2.2" height="7"/><rect x="748.2" y="375" width="2.2" height="8"/></g>
<path d="M737 357 L745 351" stroke="#a8b8e8" stroke-width="1.8" stroke-linecap="round"/>
<circle cx="740" cy="360" r="4.5" fill="#1a2c66" opacity="0.8"/>
<path d="M760 352 Q770 347 777 356 L778 382 Q766 388 760 374 Z" fill="#143060" opacity="0.9"/>
<g fill="#d8e070"><circle cx="770" cy="370" r="1.6"/><circle cx="768" cy="373" r="1.2"/><circle cx="766" cy="380" r="1.2"/><circle cx="773" cy="365" r="1"/><circle cx="771" cy="383" r="1"/></g>
<path d="M771 368 Q778 357 786 355" stroke="#a8b070" stroke-width="0.6" fill="none"/>
<g fill="#b0bcd8" opacity="0.75"><rect x="787" y="350" width="6" height="1.5"/><rect x="783" y="355" width="3" height="1"/><rect x="788" y="355" width="3" height="1"/><rect x="793" y="355" width="3" height="1"/><rect x="787" y="362" width="6" height="1.5"/><rect x="783" y="366" width="5" height="1"/><rect x="790" y="366" width="5" height="1"/><rect x="787" y="375" width="6" height="1.5"/><rect x="783" y="379" width="3" height="1"/><rect x="788" y="379" width="3" height="1"/><rect x="793" y="379" width="3" height="1"/></g>
<circle cx="814" cy="356.6" r="7" fill="none" stroke="#6a90e0" stroke-width="1.4"/>
<circle cx="814" cy="356.6" r="4" fill="none" stroke="#90a8e0" stroke-width="1.6" stroke-dasharray="1.4 1.1"/>
<circle cx="814" cy="356.6" r="1.8" fill="#060a20"/>
<rect x="829.5" y="350" width="22.5" height="15" fill="none" stroke="#2a3a70" stroke-width="0.5"/>
<path d="M832 358 L836 355 L840 359 L844 356 L848 358 L851 355" stroke="#a8b8e8" stroke-width="0.5" fill="none"/>
<path d="M808.5 384 L808.5 378 L813 376 L818 379 L823 377 L828 379 L834 374 L840 378 L845 377 L852 374 L852 384 Z" fill="#3a8ad0" opacity="0.85"/>
<g fill="#c8c8f0" opacity="0.8"><rect x="711.5" y="400" width="2.2" height="10"/><rect x="717.3" y="402" width="2.2" height="8"/><rect x="723.1" y="399" width="2.2" height="11"/><rect x="728.9" y="401" width="2.2" height="9"/><rect x="734.7" y="404" width="2.2" height="6"/></g>
<g fill="#b08080" opacity="0.7"><rect x="711.0" y="421" width="2" height="8"/><rect x="715.0" y="419" width="2" height="10"/><rect x="719.0" y="422" width="2" height="7"/><rect x="723.0" y="420" width="2" height="9"/><rect x="727.0" y="421" width="2" height="8"/><rect x="731.0" y="419" width="2" height="10"/><rect x="735.0" y="423" width="2" height="6"/></g>
<circle cx="752.3" cy="401.7" r="5.6" fill="none" stroke="#5a5aa0" stroke-width="1.2"/>
<g fill="#a0a8c8" opacity="0.7"><rect x="759" y="395" width="6" height="1"/><rect x="768" y="395" width="6" height="1"/><rect x="759" y="399" width="6" height="1"/><rect x="768" y="399" width="6" height="1"/><rect x="759" y="403" width="6" height="1"/><rect x="768" y="403" width="6" height="1"/><rect x="759" y="407" width="6" height="1"/><rect x="768" y="407" width="6" height="1"/></g>
<path d="M749 430 A11.5 11.5 0 0 1 772 430" fill="none" stroke="#3a6ae0" stroke-width="2.6"/>
<path d="M752.5 430 A8 8 0 0 1 768.5 430" fill="none" stroke="#5a80d0" stroke-width="2" stroke-dasharray="1.2 1"/>
<rect x="784" y="394.3" width="7" height="5" fill="#5a50b8"/><rect x="806.8" y="394.3" width="7" height="5" fill="#5a50b8"/>
<g fill="none" stroke="#4a5070" stroke-width="0.7"><circle cx="788" cy="410" r="4"/><circle cx="796" cy="410" r="4"/><circle cx="810.5" cy="410" r="4"/><circle cx="818.5" cy="410" r="4"/></g>
<rect x="784" y="422.5" width="10" height="2" fill="#d06840"/><rect x="795" y="422.5" width="8.5" height="2" fill="#30a0a0"/><rect x="805" y="422.5" width="8" height="2" fill="#3a70c8"/><rect x="814" y="422.5" width="8.5" height="2" fill="#3a80d0"/>
<g fill="#8a94b8" opacity="0.7"><rect x="833" y="398" width="7" height="1.4"/><rect x="834" y="401.5" width="5" height="1.4"/><rect x="842" y="406" width="7" height="1.4"/><rect x="843" y="409.5" width="5" height="1.4"/><rect x="833" y="414" width="7" height="1.4"/><rect x="834" y="417.5" width="5" height="1.4"/><rect x="842" y="423" width="7" height="1.4"/><rect x="843" y="426.5" width="5" height="1.4"/></g>
</g>
<!-- PC monitor -->
<g>
<ellipse cx="780" cy="513.2" rx="19" ry="1.6" fill="#1a1a1a"/>
<rect x="777.3" y="508.5" width="7" height="4.5" fill="#1e1e1e"/>
<rect x="752.4" y="470.7" width="57.3" height="38.6" rx="2" fill="#111"/>
<rect x="754.5" y="472.5" width="53.2" height="34.6" fill="#fff"/>
<rect x="754.5" y="472.5" width="53.2" height="3" fill="#e4eef8"/>
<rect x="754.5" y="475.5" width="53.2" height="6" fill="#d4e4f4"/>
<g fill="#8a9cb8"><rect x="758" y="473.3" width="4" height="1"/><rect x="764" y="473.3" width="4" height="1"/><rect x="770" y="473.3" width="4" height="1"/><rect x="776" y="473.3" width="4" height="1"/><rect x="782" y="473.3" width="4" height="1"/><rect x="788" y="473.3" width="4" height="1"/></g>
<g fill="#6a7c98"><rect x="757" y="477" width="2.4" height="2.4"/><rect x="761" y="477" width="2.4" height="2.4"/><rect x="765" y="476.5" width="2.4" height="3"/><rect x="769" y="476.5" width="2.4" height="3"/><rect x="775" y="477" width="2.4" height="2.4"/><rect x="780" y="477" width="2.4" height="2.4"/><rect x="785" y="477" width="2.4" height="2.4"/><rect x="790" y="477" width="2.4" height="2.4"/><rect x="796" y="477" width="3" height="2.4"/></g>
<rect x="754.5" y="481.5" width="53.2" height="1" fill="#c0d0e0"/>
<rect x="759" y="483.5" width="7" height="0.8" fill="#999"/><rect x="771" y="483.5" width="6" height="0.8" fill="#999"/><rect x="802" y="483.5" width="5" height="0.8" fill="#999"/>
<rect x="770.5" y="486.8" width="37.2" height="2.2" fill="#3a8ad8"/>
<rect x="759" y="486.5" width="7.5" height="1.8" fill="#3a6ab8"/>
<rect x="759" y="491" width="6" height="0.8" fill="#e0a080"/>
<rect x="769" y="485" width="1" height="22" fill="#e0e8f0"/>
<rect x="770.5" y="490.0" width="2" height="1.8" fill="#2a6a3a"/><rect x="775" y="490.4" width="3" height="0.8" fill="#aaa"/><rect x="783" y="490.4" width="2" height="0.8" fill="#c8a060"/><rect x="793" y="490.4" width="5" height="0.8" fill="#999"/><rect x="801" y="490.4" width="5" height="0.8" fill="#b0b0b0"/><rect x="770.5" y="492.8" width="2" height="1.8" fill="#2a6a3a"/><rect x="775" y="493.2" width="3" height="0.8" fill="#aaa"/><rect x="783" y="493.2" width="2" height="0.8" fill="#c8a060"/><rect x="793" y="493.2" width="5" height="0.8" fill="#999"/><rect x="801" y="493.2" width="5" height="0.8" fill="#b0b0b0"/><rect x="770.5" y="495.6" width="2" height="1.8" fill="#2a6a3a"/><rect x="775" y="496.0" width="3" height="0.8" fill="#aaa"/><rect x="783" y="496.0" width="2" height="0.8" fill="#c8a060"/><rect x="793" y="496.0" width="5" height="0.8" fill="#999"/><rect x="801" y="496.0" width="5" height="0.8" fill="#b0b0b0"/><rect x="770.5" y="498.4" width="2" height="1.8" fill="#2a6a3a"/><rect x="775" y="498.8" width="3" height="0.8" fill="#aaa"/><rect x="783" y="498.8" width="2" height="0.8" fill="#c8a060"/><rect x="793" y="498.8" width="5" height="0.8" fill="#999"/><rect x="801" y="498.8" width="5" height="0.8" fill="#b0b0b0"/><rect x="770.5" y="501.2" width="2" height="1.8" fill="#2a6a3a"/><rect x="775" y="501.6" width="3" height="0.8" fill="#aaa"/><rect x="783" y="501.6" width="2" height="0.8" fill="#c8a060"/><rect x="793" y="501.6" width="5" height="0.8" fill="#999"/><rect x="801" y="501.6" width="5" height="0.8" fill="#b0b0b0"/><rect x="770.5" y="504.0" width="2" height="1.8" fill="#2a6a3a"/><rect x="775" y="504.4" width="3" height="0.8" fill="#aaa"/><rect x="783" y="504.4" width="2" height="0.8" fill="#c8a060"/><rect x="793" y="504.4" width="5" height="0.8" fill="#999"/><rect x="801" y="504.4" width="5" height="0.8" fill="#b0b0b0"/>
</g>
<!-- tablet + phone -->
<g>
<rect x="715" y="540.5" width="97" height="60.5" rx="3" fill="#fafafa" stroke="#dedede" stroke-width="0.8"/>
<rect x="724" y="543.7" width="79.5" height="53.6" fill="#fff"/>
<rect x="724" y="543.7" width="79.5" height="3.5" fill="#111"/>
<g stroke="#d8d8d8" stroke-width="0.4"><line x1="729" y1="551" x2="729" y2="580"/><line x1="729" y1="580" x2="800" y2="580"/></g>
<path d="M731 572 L742 556 L752 570 L764 555 L776 571 L790 560" stroke="#e8b860" stroke-width="0.9" fill="none"/>
<path d="M731 569 L742 559 L752 574 L764 558 L776 574 L790 565" stroke="#d8a040" stroke-width="0.9" fill="none"/>
<path d="M731 575 L752 569 L764 574 L790 568" stroke="#e0d090" stroke-width="0.9" fill="none"/>
<g fill="#ccc"><rect x="726" y="583" width="70" height="0.6"/><rect x="726" y="586" width="70" height="0.6"/></g>
<rect x="724" y="588.5" width="79.5" height="8.8" fill="#202020"/>
<rect x="735" y="589" width="3" height="7" fill="#6a8ab0"/><rect x="762" y="589" width="3" height="7" fill="#707070"/>
<rect x="779.5" y="556" width="40" height="56" rx="4" fill="#fdfdfd" stroke="#d0d0d0" stroke-width="0.8"/>
<circle cx="799.5" cy="561" r="0.8" fill="#555"/>
<rect x="783" y="564.7" width="34" height="2.2" fill="#111"/>
<circle cx="789" cy="573.5" r="4.6" fill="#a8b030"/>
<circle cx="806.5" cy="573.5" r="5" fill="#f07820"/>
<g fill="#e0a030"><rect x="784" y="590" width="1" height="5"/><rect x="786" y="587" width="1" height="8"/><rect x="788" y="591" width="1" height="4"/><rect x="790" y="585" width="1" height="10"/><rect x="792" y="589" width="1" height="6"/><rect x="794" y="586" width="1" height="9"/><rect x="796" y="590" width="1" height="5"/><rect x="798" y="584" width="1" height="11"/><rect x="800" y="588" width="1" height="7"/><rect x="802" y="586" width="1" height="9"/><rect x="804" y="590" width="1" height="5"/><rect x="806" y="583" width="1" height="12"/><rect x="808" y="587" width="1" height="8"/><rect x="810" y="585" width="1" height="10"/><rect x="812" y="589" width="1" height="6"/><rect x="814" y="583" width="1" height="12"/></g>
<path d="M784 603 Q792 598 800 603 T816 601" stroke="#e0c070" stroke-width="0.6" fill="none"/>
</g>
</svg>

</body></html>
